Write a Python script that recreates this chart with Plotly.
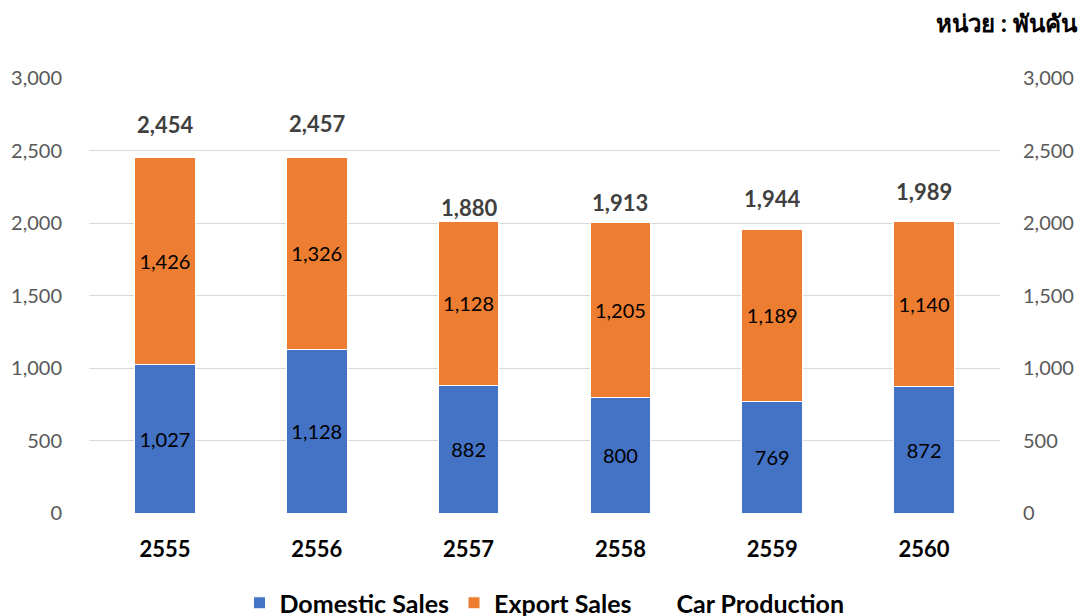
import plotly.graph_objects as go

years = ["2555", "2556", "2557", "2558", "2559", "2560"]
domestic = [1027, 1128, 882, 800, 769, 872]
export = [1426, 1326, 1128, 1205, 1189, 1140]
production = [2454, 2457, 1880, 1913, 1944, 1989]
y_ticks = [0, 500, 1000, 1500, 2000, 2500, 3000]

FONT = "Lato"

def fmt(v):
    return f"{v:,}"

fig = go.Figure()
fig.add_trace(go.Bar(
    x=years, y=domestic, name="<b>Domestic Sales</b>",
    marker=dict(color="#4472C4", line=dict(color="white", width=1)),
    text=[fmt(v) for v in domestic], textposition="inside", insidetextanchor="middle",
    textfont=dict(size=20, color="black", family=FONT),
))
fig.add_trace(go.Bar(
    x=years, y=export, name="<b>Export Sales</b>",
    marker=dict(color="#ED7D31", line=dict(color="white", width=1)),
    text=[fmt(v) for v in export], textposition="inside", insidetextanchor="middle",
    textfont=dict(size=20, color="black", family=FONT),
))
fig.add_trace(go.Scatter(
    x=years, y=production, name="<b>Car Production</b>", mode="lines",
    line=dict(color="rgba(0,0,0,0)", width=1), yaxis="y2",
))

# category index used for annotation positions (category axis)
for i, v in enumerate(production):
    fig.add_annotation(x=i, y=v, xref="x", yref="y", text="<b>" + fmt(v) + "</b>",
                       showarrow=False, yshift=33, yanchor="middle",
                       font=dict(size=22, color="#404040", family=FONT))

fig.add_annotation(xref="paper", yref="paper", x=1.088, y=1.0, yshift=56,
                   xanchor="right", yanchor="middle", showarrow=False,
                   text="<b>หน่วย : พันคัน</b>",
                   font=dict(size=24, color="black", family=FONT))

fig.update_layout(
    width=1080, height=608,
    barmode="stack", bargap=0.6,
    paper_bgcolor="white", plot_bgcolor="white",
    margin=dict(l=81, r=88, t=70, b=103, autoexpand=False),
    font=dict(family=FONT),
    xaxis=dict(type="category", range=[-0.5, len(years) - 0.5], automargin=False,
               tickfont=dict(size=22, color="black", family=FONT),
               tickprefix="<b>", ticksuffix="</b>",
               showgrid=False, showline=False,
               ticks="outside", ticklen=17, tickcolor="rgba(0,0,0,0)"),
    yaxis=dict(range=[0, 3000], tickvals=y_ticks, tickformat=",", automargin=False,
               showgrid=True, gridcolor="#D9D9D9", gridwidth=1,
               zeroline=False, tickfont=dict(size=20, color="#595959", family=FONT),
               ticks="outside", ticklen=22, tickcolor="rgba(0,0,0,0)"),
    yaxis2=dict(range=[0, 3000], tickvals=y_ticks, tickformat=",", automargin=False,
                overlaying="y", side="right", showgrid=False, zeroline=False,
                tickfont=dict(size=20, color="#595959", family=FONT),
                ticks="outside", ticklen=18, tickcolor="rgba(0,0,0,0)"),
    legend=dict(orientation="h", x=0.5, xanchor="center", y=-0.207, yanchor="middle",
                font=dict(size=25, color="black", family=FONT),
                traceorder="normal"),
    showlegend=True,
)

fig.write_html("out.html")
